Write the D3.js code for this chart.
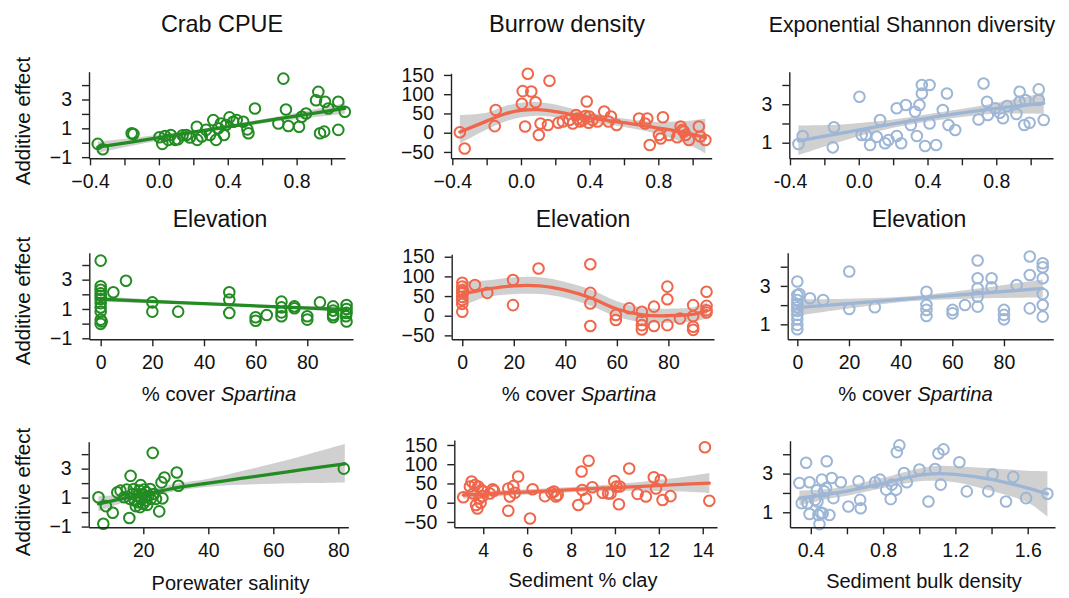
<!DOCTYPE html>
<html lang="en">
<head>
<meta charset="utf-8">
<title>Additive effects</title>
<script src="https://d3js.org/d3.v7.min.js"></script>
<style type="text/css">
  body { margin: 0; background: #fff; }
  text { font-family: "Liberation Sans", Arial, sans-serif; fill: #111; }
</style>
</head>
<body>
<script type="text/javascript">
// column titles and row x labels
var titles = ["Crab CPUE", "Burrow density", "Exponential Shannon diversity"]

// tick values
var elevTicks = [-0.4, -0.2, 0, 0.2, 0.4, 0.6, 0.8, 1.0]
var elevLabels = [-0.4, 0, 0.4, 0.8]
var spartTicks = [0, 20, 40, 60, 80]
var salTicks = [20, 40, 60, 80]
var clayTicks = [4, 6, 8, 10, 12, 14]
var bulkTicks = [0.4, 0.6, 0.8, 1.0, 1.2, 1.4, 1.6]
var bulkLabels = [0.4, 0.8, 1.2, 1.6]
var crabYTicks = [-1, 0, 1, 2, 3, 4]
var crabYLabels = [-1, 1, 3]
var burrowYTicks = [-50, 0, 50, 100, 150]
var shannonYTicks = [1, 2, 3, 4]
var shannonYLabels = [1, 3]

// ---- row 1: elevation ----
var crabElevPts = [[-0.355,-0.08],[-0.326,-0.45],[-0.158,0.66],[-0.148,0.61],[0.003,0.38],[0.02,-0.08],[0.036,0.47],[0.055,0.2],[0.069,0.54],[0.094,0.2],[0.11,0.24],[0.138,0.52],[0.16,0.54],[0.18,0.36],[0.22,1.11],[0.223,0.2],[0.249,0.43],[0.274,0.89],[0.297,0.54],[0.316,1.57],[0.332,0.2],[0.345,1.0],[0.36,1.34],[0.378,0.54],[0.39,1.23],[0.41,1.76],[0.432,1.46],[0.452,1.57],[0.49,1.46],[0.514,0.93],[0.52,0.66],[0.558,2.38],[0.694,1.34],[0.723,4.45],[0.738,2.31],[0.752,1.16],[0.814,1.11],[0.83,1.8],[0.855,2.03],[0.926,3.53],[0.913,2.95],[0.936,0.66],[0.96,0.77],[0.965,2.84],[0.984,2.38],[1.042,2.84],[1.042,0.89],[1.08,2.15]]
// [x, fit, lower, upper]
var crabElevFit = [[-0.355,-0.31,-0.70,0.08],[0,0.356,0.15,0.56],[0.36,1.03,0.90,1.16],[0.7,1.67,1.50,1.84],[1.08,2.38,2.02,2.74]]

var burrowElevPts = [[-0.356,1],[-0.328,-41],[-0.153,17],[-0.147,59],[0.005,75],[0.01,108],[0.024,16],[0.04,153],[0.06,107],[0.085,79],[0.104,-6],[0.114,24],[0.157,20],[0.166,135],[0.218,26],[0.244,29],[0.282,33],[0.302,24],[0.321,46],[0.33,37],[0.344,29],[0.36,33],[0.375,43],[0.383,81],[0.394,26],[0.398,42],[0.417,33],[0.446,29],[0.485,55],[0.51,29],[0.524,42],[0.557,20],[0.688,37],[0.723,24],[0.736,37],[0.75,-32],[0.804,-6],[0.814,-15],[0.827,40],[0.862,-6],[0.91,-12],[0.93,16],[0.94,7],[0.949,3],[0.959,-6],[0.978,-19],[1.036,16],[1.045,-10],[1.074,-19]]
var burrowElevFit = [[-0.356,2,-28,46],[-0.2,30,8,52],[-0.1,48,28,68],[0,58,40,78],[0.1,60,44,80],[0.2,55,40,73],[0.3,47,33,62],[0.4,39,27,52],[0.5,32,21,44],[0.6,26,15,37],[0.7,19,7,31],[0.8,12,-4,28],[0.9,5,-18,29],[1.0,-4,-36,32],[1.074,-13,-54,36]]

var shannonElevPts = [[-0.351,0.93],[-0.326,1.35],[-0.151,0.76],[-0.144,1.8],[0.004,3.39],[0.017,1.4],[0.041,1.4],[0.066,0.88],[0.105,1.31],[0.124,2.18],[0.153,0.97],[0.173,1.14],[0.221,2.79],[0.221,1.35],[0.247,0.97],[0.274,2.96],[0.303,1.92],[0.328,2.61],[0.338,1.35],[0.353,2.96],[0.367,3.56],[0.367,4.0],[0.386,0.83],[0.412,4.0],[0.412,2.0],[0.45,0.88],[0.489,2.7],[0.513,3.56],[0.522,1.92],[0.561,1.66],[0.697,2.21],[0.726,4.08],[0.746,3.13],[0.751,2.44],[0.794,2.79],[0.82,2.56],[0.839,2.27],[0.862,2.91],[0.917,2.49],[0.936,3.65],[0.936,3.13],[0.963,1.92],[0.994,2.04],[0.969,3.22],[1.047,3.77],[1.047,3.22],[1.076,2.18]]
var shannonElevFit = [[-0.351,1.1,0.36,1.9],[-0.1,1.5,1.08,1.95],[0.2,1.98,1.78,2.2],[0.5,2.42,2.22,2.62],[0.8,2.78,2.5,3.06],[1.076,3.05,2.48,3.6]]

// ---- row 2: % cover Spartina ----
var crabSpartPts = [[0,4.3],[0,2.55],[0,2.3],[0,2.07],[0,1.9],[0,1.68],[0,1.4],[0,1.1],[0,0.82],[0,0.27],[0,-0.02],[0.4,0.14],[4.9,2.14],[9.8,2.93],[20,1.45],[20,0.82],[30,0.82],[49.8,2.14],[49.8,1.64],[49.8,0.73],[60,0.43],[60,0.2],[64.3,0.59],[70,1.5],[70,1.11],[70,0.77],[70,0.5],[75,1.18],[75,1.05],[80,0.5],[80,0.27],[84.9,1.45],[90,1.18],[90,0.89],[90,0.59],[90,0.43],[95.2,1.27],[95.2,1.0],[95.2,0.73],[95.2,0.14],[95,0.5]]
var crabSpartFit = [[0,1.67,1.48,1.86],[47,1.31,1.24,1.38],[95.2,0.95,0.78,1.12]]

var burrowSpartPts = [[0,84],[0,74],[0,65],[0,57],[0,48],[0,40],[0,30],[0,10],[0.4,61],[4.9,78],[9.7,58],[19.7,91],[19.7,27],[29.6,120],[49.7,131],[49.7,58],[49.7,31],[49.7,-26],[59.6,2],[59.6,-11],[64.8,19],[69.7,10],[69.7,-11],[69.7,-24],[69.7,-35],[74.4,23],[74.4,-26],[79.6,74],[79.6,42],[79.6,-24],[84.5,-7],[89.6,27],[89.6,-1],[89.6,-28],[89.6,-36],[94.8,61],[94.8,25],[94.8,14],[94.8,8]]
var burrowSpartFit = [[0,55,23,88],[5,62,38,88],[10,68,48,90],[20,76,55,98],[30,76,55,98],[40,65,45,86],[50,45,25,66],[60,17,-2,37],[70,2,-17,21],[80,0,-18,18],[90,4,-14,22],[95,13,-7,34]]

var shannonSpartPts = [[0,3.23],[0,2.53],[0,2.27],[0,2.06],[0,1.89],[0,1.7],[0,1.49],[0,1.26],[0,0.97],[0,0.74],[0.8,2.58],[4.9,2.36],[10,2.27],[20.1,3.75],[20.1,1.8],[30,1.89],[50,2.7],[50,2.01],[50,1.75],[50,1.43],[60.1,1.75],[60.1,1.57],[64.9,2.01],[69.8,4.32],[69.8,3.4],[69.8,2.88],[69.8,2.44],[69.8,1.92],[75.2,3.4],[75.2,2.93],[80,1.75],[80,1.49],[80,1.26],[84.9,3.05],[90,4.53],[90,3.57],[90,1.83],[95,4.18],[95,3.97],[95,3.4],[95,2.58],[95,2.01],[95,1.4]]
var shannonSpartFit = [[0,1.87,1.45,2.3],[45,2.35,2.22,2.48],[95,2.87,2.4,3.34]]

// ---- row 3: salinity, clay, bulk density ----
var crabSalPts = [[6.2,1.02],[7.7,-0.8],[8.5,0.41],[10.6,-0.05],[12,1.36],[13,1.48],[14.1,1.02],[14.9,1.55],[15.7,-0.41],[15.9,0.91],[16.1,2.5],[16.7,1.25],[17.1,1.59],[17.4,0.8],[17.7,0.41],[18.2,1.14],[18.5,0.68],[18.8,1.48],[19,0.34],[19.2,1.86],[19.5,0.91],[19.8,1.25],[20,0.57],[20.2,1.55],[20.5,1.02],[20.8,0.8],[21,1.36],[21.2,0.5],[21.5,1.09],[22.1,1.59],[22.3,0.91],[22.9,4.09],[23.3,1.25],[23.9,0.91],[24.9,0.05],[25.6,2.05],[25.9,0.95],[26.5,2.39],[30.3,2.73],[30.8,1.82],[81.7,3.0]]
var crabSalFit = [[6.2,0.57,0.05,1.1],[13,0.9,0.6,1.2],[20,1.2,0.95,1.45],[30,1.68,1.45,1.95],[40,2.0,1.75,2.3],[50,2.32,1.88,2.82],[60,2.64,1.95,3.35],[70,2.96,2.0,3.95],[82,3.33,2.05,4.7]]

var burrowClayPts = [[3.09,14],[3.39,42],[3.47,55],[3.54,24],[3.62,46],[3.67,-6],[3.73,-15],[3.77,42],[3.82,11],[3.88,0],[3.92,33],[3.97,17],[4,29],[4.3,24],[4.43,35],[4.49,31],[5.14,37],[5.14,-21],[5.21,16],[5.37,43],[5.44,26],[5.59,68],[6.25,35],[6.13,-41],[6.81,17],[7.11,26],[7.22,29],[7.31,16],[7.39,20],[8.33,-6],[8.48,81],[8.51,33],[8.68,11],[8.8,109],[8.97,40],[9.44,26],[9.69,24],[9.8,24],[9.97,56],[10.07,42],[10.18,-4],[10.22,42],[10.65,89],[11.03,23],[11.41,16],[11.77,66],[11.87,37],[12.09,59],[12.17,7],[12.53,17],[14.1,144],[14.3,5]]
var burrowClayFit = [[3.09,20,10,30],[5,25.3,18,32.5],[7,30.8,24,37.5],[9,36.4,29,44],[11,41.9,31,53],[13,47.4,29,66],[14.3,51,25,77]]

var shannonBulkPts = [[0.337,2.51],[0.35,1.47],[0.374,3.56],[0.382,1.47],[0.393,2.55],[0.393,0.91],[0.424,1.64],[0.433,2.13],[0.437,1.56],[0.442,0.86],[0.448,0.39],[0.455,0.98],[0.461,2.69],[0.466,0.95],[0.474,2.08],[0.485,2.25],[0.488,3.64],[0.503,0.86],[0.516,2.77],[0.525,1.73],[0.566,2.55],[0.608,1.3],[0.664,2.6],[0.673,1.64],[0.676,1.21],[0.756,2.55],[0.783,2.69],[0.817,2.17],[0.842,1.68],[0.848,2.43],[0.872,2.17],[0.876,4.11],[0.89,4.46],[0.916,3.03],[0.931,2.55],[1.001,3.21],[1.051,1.56],[1.088,3.24],[1.106,4.04],[1.119,2.43],[1.134,4.25],[1.222,3.59],[1.263,2.08],[1.382,2.08],[1.406,2.95],[1.48,1.56],[1.52,2.83],[1.591,1.73],[1.709,1.96]]
var shannonBulkFit = [[0.337,1.73,1.35,2.12],[0.5,1.95,1.7,2.2],[0.6,2.1,1.85,2.36],[0.8,2.5,2.25,2.78],[1.0,2.92,2.6,3.26],[1.1,3.0,2.62,3.4],[1.2,2.96,2.55,3.38],[1.4,2.7,2.1,3.27],[1.6,2.25,1.5,3.15],[1.709,1.96,0.77,3.12]]

var green = "#228B22", red = "#F0664A", blue = "#9DB6D6"
var w = 1069, h = 598
var font = '"Liberation Sans", Arial, sans-serif'

var svg = d3.select("body").append("svg")
  .attr("width", w).attr("height", h)

var f1 = d3.format(".1f"), f0 = d3.format("d")

// box = [left, right, top, bottom] in px
var panels = [
  { pts: crabElevPts, fit: crabElevFit, col: green, box: [89, 345, 71.7, 158.3], xd: [-0.406, 1.081], yd: [-1.08, 4.93],
    xt: elevTicks, xl: elevLabels, yt: crabYTicks, yl: crabYLabels, xf: f1 },
  { pts: burrowElevPts, fit: burrowElevFit, col: red, box: [451, 711.7, 73.3, 158.3], xd: [-0.4076, 1.111], yd: [-66.5, 154.3],
    xt: elevTicks, xl: elevLabels, yt: burrowYTicks, yl: burrowYTicks, xf: f1 },
  { pts: shannonElevPts, fit: shannonElevFit, col: blue, box: [789.3, 1053, 71.7, 158.3], xd: [-0.404, 1.13], yd: [0.19, 4.69],
    xt: elevTicks, xl: elevLabels, yt: shannonYTicks, yl: shannonYLabels, xf: f1, hyphen: true },
  { pts: crabSpartPts, fit: crabSpartFit, col: green, box: [89.3, 353, 252.7, 339.3], xd: [-4.41, 97.7], yd: [-1.07, 4.84],
    xt: spartTicks, xl: spartTicks, yt: crabYTicks, yl: crabYLabels, xf: f0 },
  { pts: burrowSpartPts, fit: burrowSpartFit, col: red, box: [451.7, 714, 254.3, 339.3], xd: [-4.1, 97.7], yd: [-60, 156.2],
    xt: spartTicks, xl: spartTicks, yt: burrowYTicks, yl: burrowYTicks, xf: f0 },
  { pts: shannonSpartPts, fit: shannonSpartFit, col: blue, box: [787.7, 1053.3, 252.7, 339.3], xd: [-3.72, 99.1], yd: [0.22, 4.73],
    xt: spartTicks, xl: spartTicks, yt: shannonYTicks, yl: shannonYLabels, xf: f0 },
  { pts: crabSalPts, fit: crabSalFit, col: green, box: [88.7, 348.3, 441.7, 527.3], xd: [3.2, 83.08], yd: [-1.05, 4.86],
    xt: salTicks, xl: salTicks, yt: crabYTicks, yl: crabYLabels, xf: f0 },
  { pts: burrowClayPts, fit: burrowClayFit, col: red, box: [454.3, 717, 440, 527.3], xd: [2.68, 14.65], yd: [-63.9, 162.9],
    xt: clayTicks, xl: clayTicks, yt: burrowYTicks, yl: burrowYTicks, xf: f0 },
  { pts: shannonBulkPts, fit: shannonBulkFit, col: blue, box: [790, 1055, 440.7, 527.3], xd: [0.285, 1.751], yd: [0.224, 4.7],
    xt: bulkTicks, xl: bulkLabels, yt: shannonYTicks, yl: shannonYLabels, xf: f1 }
]

function has(list, v) {
  return list.some(function(d) { return Math.abs(d - v) < 1e-9 })
}

panels.forEach(function(p) {
  var x = d3.scaleLinear().domain(p.xd).range([p.box[0], p.box[1]])
  var y = d3.scaleLinear().domain(p.yd).range([p.box[3], p.box[2]])
  var g = svg.append("g")

  // confidence band
  var area = d3.area()
    .curve(d3.curveCatmullRom.alpha(0.5))
    .x(function(d) { return x(d[0]) })
    .y0(function(d) { return y(d[2]) })
    .y1(function(d) { return y(d[3]) })
  g.append("path").datum(p.fit)
    .attr("d", area)
    .style("fill", "#d0d0d0")

  // points
  g.selectAll("circle").data(p.pts).enter()
    .append("circle")
    .attr("cx", function(d) { return x(d[0]) })
    .attr("cy", function(d) { return y(d[1]) })
    .attr("r", 5.3)
    .style("fill", "none")
    .style("stroke", p.col)
    .style("stroke-width", 2)

  // fitted line
  var line = d3.line()
    .curve(d3.curveCatmullRom.alpha(0.5))
    .x(function(d) { return x(d[0]) })
    .y(function(d) { return y(d[1]) })
  g.append("path").datum(p.fit)
    .attr("d", line)
    .style("fill", "none")
    .style("stroke", p.col)
    .style("stroke-width", 3.3)
    .style("stroke-linecap", "round")

  // axes
  var xfmt = function(v) {
    if (!has(p.xl, v)) return ""
    var s = p.xf(v)
    return p.hyphen ? s.replace("\u2212", "-") : s
  }
  var yfmt = function(v) {
    if (!has(p.yl, v)) return ""
    return p.hyphen ? f0(v).replace("\u2212", "-") : f0(v)
  }
  var xa = g.append("g")
    .attr("transform", "translate(0," + p.box[3] + ")")
    .call(d3.axisBottom(x).tickValues(p.xt).tickFormat(xfmt).tickSize(7).tickSizeOuter(0).tickPadding(9))
  var ya = g.append("g")
    .attr("transform", "translate(" + p.box[0] + ",0)")
    .call(d3.axisLeft(y).tickValues(p.yt).tickFormat(yfmt).tickSize(7).tickSizeOuter(0).tickPadding(10))

  ;[xa, ya].forEach(function(a) {
    a.selectAll("path, line").style("stroke", "#222").style("stroke-width", 1.4)
    a.selectAll("text").style("font-family", font).style("font-size", "19.5px").style("fill", "#111")
  })
})

// column titles
var titleSpec = [[222, 23.4], [567, 23.6], [912, 21.3]]
titles.forEach(function(t, i) {
  svg.append("text")
    .attr("x", titleSpec[i][0]).attr("y", 32)
    .attr("text-anchor", "middle")
    .style("font-size", titleSpec[i][1] + "px")
    .text(t)
})

// x labels
var elevX = [220, 583, 919]
elevX.forEach(function(cx) {
  svg.append("text").attr("x", cx).attr("y", 227)
    .attr("text-anchor", "middle").style("font-size", "23px")
    .text("Elevation")
})
var spartX = [219, 579, 915.5]
spartX.forEach(function(cx) {
  var t = svg.append("text").attr("x", cx).attr("y", 401)
    .attr("text-anchor", "middle").style("font-size", "20.3px")
  t.append("tspan").text("% cover ")
  t.append("tspan").style("font-style", "italic").text("Spartina")
})
var row3Labels = [["Porewater salinity", 230.5, 590], ["Sediment % clay", 583, 587], ["Sediment bulk density", 924, 588]]
row3Labels.forEach(function(l) {
  svg.append("text").attr("x", l[1]).attr("y", l[2])
    .attr("text-anchor", "middle").style("font-size", "20px")
    .text(l[0])
})

// y labels
var yLabY = [121, 301, 492]
yLabY.forEach(function(cy) {
  svg.append("text")
    .attr("transform", "translate(30," + cy + ") rotate(-90)")
    .attr("text-anchor", "middle")
    .style("font-size", "20.5px")
    .text("Additive effect")
})
</script>
</body>
</html>
